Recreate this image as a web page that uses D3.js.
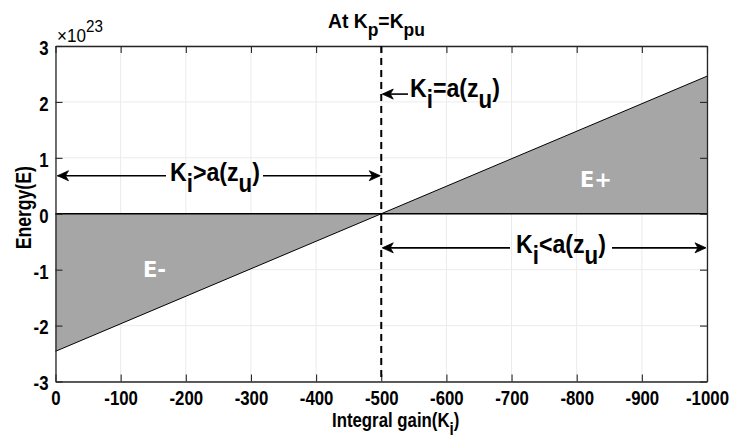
<!DOCTYPE html>
<html>
<head>
<meta charset="utf-8">
<script src="https://cdn.jsdelivr.net/npm/d3@7"></script>
<style>
  html, body { margin: 0; padding: 0; background: #fff; }
  svg { display: block; }
  .nar { font-family: "Liberation Sans", Arial, sans-serif; font-weight: bold; }
</style>
</head>
<body>
<svg id="chart" width="733" height="443"></svg>
<script>
// Integral gain Ki and the energy E (in units of 1e23) along it
const kiValues = [0, -500, -1000];
const energyValues = [-2.46, 0, 2.46];
const xTicks = [0, -100, -200, -300, -400, -500, -600, -700, -800, -900, -1000];
const yTicks = [-3, -2, -1, 0, 1, 2, 3];
const criticalKi = -500;

const svg = d3.select("#chart");
const W = 733, H = 443;
const m = { left: 55.5, right: 26, top: 46, bottom: 61.5 };
const SX = 0.8;   // horizontal squeeze for the condensed bold tick lettering
const SXA = 0.89; // squeeze for the larger annotation lettering

const x = d3.scaleLinear().domain([0, -1000]).range([m.left, W - m.right]);
const y = d3.scaleLinear().domain([-3, 3]).range([H - m.bottom, m.top]);

const axisColor = "#262626";

// grid
const grid = svg.append("g");
grid.selectAll(".gx").data(xTicks).join("line")
  .attr("x1", d => x(d)).attr("x2", d => x(d))
  .attr("y1", y(-3)).attr("y2", y(3))
  .attr("stroke", "#ebebeb").attr("stroke-width", 1);
grid.selectAll(".gy").data(yTicks).join("line")
  .attr("x1", x(0)).attr("x2", x(-1000))
  .attr("y1", d => y(d)).attr("y2", d => y(d))
  .attr("stroke", "#ebebeb").attr("stroke-width", 1);

// shaded energy regions between the curve and zero
const pts = kiValues.map((k, i) => ({ k, e: energyValues[i] }));
svg.append("path").datum(pts)
  .attr("d", d3.area().x(d => x(d.k)).y0(y(0)).y1(d => y(d.e)))
  .attr("fill", "#a6a6a6").attr("stroke", "none");

// zero line
svg.append("line")
  .attr("x1", x(0)).attr("x2", x(-1000))
  .attr("y1", y(0)).attr("y2", y(0))
  .attr("stroke", "#000").attr("stroke-width", 1.5);

// energy curve
svg.append("path").datum(pts)
  .attr("d", d3.line().x(d => x(d.k)).y(d => y(d.e)))
  .attr("fill", "none").attr("stroke", "#000").attr("stroke-width", 1);

// axes (box style with inward ticks)
const tl = 7;
const fmt = d => String(d);
const axB = d3.axisBottom(x).tickValues(xTicks).tickSizeInner(-tl).tickSizeOuter(0).tickPadding(9).tickFormat(fmt);
const axT = d3.axisTop(x).tickValues(xTicks).tickSizeInner(-tl).tickSizeOuter(0).tickFormat("");
const axL = d3.axisLeft(y).tickValues(yTicks).tickSizeInner(-tl).tickSizeOuter(0).tickPadding(7).tickFormat(fmt);
const axR = d3.axisRight(y).tickValues(yTicks).tickSizeInner(-tl).tickSizeOuter(0).tickFormat("");

function styleAxis(g) {
  g.attr("font-family", null).attr("font-size", null);
  g.select(".domain").attr("stroke", axisColor).attr("stroke-width", 1.3);
  g.selectAll(".tick line").attr("stroke", axisColor).attr("stroke-width", 1.1);
  g.selectAll(".tick text").attr("fill", "#000").attr("class", "nar")
    .style("font-size", "21px").attr("transform", `scale(${SX},1)`);
}
svg.append("g").attr("transform", `translate(0,${y(-3)})`).call(axB).call(styleAxis);
svg.append("g").attr("transform", `translate(0,${y(3)})`).call(axT).call(styleAxis);
svg.append("g").attr("transform", `translate(${x(0)},0)`).call(axL).call(styleAxis)
  .selectAll(".tick text").attr("x", -7 / SX).attr("dy", "0.4em");
svg.append("g").attr("transform", `translate(${x(-1000)},0)`).call(axR).call(styleAxis);

// critical gain dashed line
svg.append("line")
  .attr("x1", x(criticalKi)).attr("x2", x(criticalKi))
  .attr("y1", y(3)).attr("y2", y(-3))
  .attr("stroke", "#000").attr("stroke-width", 2)
  .attr("stroke-dasharray", "7,5");

// condensed text with subscript pieces: parts = [[text, isSub], ...]
function richText(g, parts, px, py, size, subSize, subDy, sx) {
  const t = g.append("text").attr("class", "nar")
    .attr("transform", `translate(${px},${py}) scale(${sx},1)`)
    .style("font-size", size + "px").attr("fill", "#000");
  let low = false;
  parts.forEach(([s, sub]) => {
    const sp = t.append("tspan").text(s);
    if (sub && !low) { sp.attr("dy", subDy).style("font-size", subSize + "px"); low = true; }
    else if (!sub && low) { sp.attr("dy", -subDy); low = false; }
    else if (sub) sp.style("font-size", subSize + "px");
  });
  return t;
}

// title and labels
richText(svg, [["At K"], ["p", 1], ["=K"], ["pu", 1]], 328, 28, 21, 19, 8, 0.92);
richText(svg, [["Integral gain(K"], ["i", 1], [")"]], 332, 427, 21, 19, 8, SX);
svg.append("text").attr("class", "nar").style("font-size", "22px")
  .attr("transform", `translate(31,${y(0) - 6}) rotate(-90) scale(${SX},1)`)
  .attr("text-anchor", "middle").text("Energy(E)");

// exponent label
const ex = svg.append("text").attr("transform", `translate(57,42) scale(0.95,1)`)
  .style("font-family", "'Liberation Sans', Arial, sans-serif").style("font-size", "18px").attr("fill", "#000");
ex.append("tspan").text("\u00d710");
ex.append("tspan").attr("dy", -10).style("font-size", "16px").text("23");

// arrows
function arrowHead(g, tipX, tipY, dir) {
  const L = 11, hw = 5, notch = 3;
  const d = `M${tipX},${tipY} L${tipX + dir * L},${tipY - hw} L${tipX + dir * (L - notch)},${tipY} L${tipX + dir * L},${tipY + hw} Z`;
  g.append("path").attr("d", d).attr("fill", "#000").attr("stroke", "#000").attr("stroke-width", 0.8).attr("stroke-linejoin", "miter");
}
function hLine(g, x1, x2, yy) {
  g.append("line").attr("x1", x1).attr("x2", x2).attr("y1", yy).attr("y2", yy)
    .attr("stroke", "#000").attr("stroke-width", 1.6);
}
const ann = svg.append("g");

// Ki > a(zu): double arrow over the left half
const yA = y(0.68);
hLine(ann, x(0) + 2, 166, yA);
hLine(ann, 263, x(criticalKi) - 2, yA);
arrowHead(ann, x(0) + 2, yA, 1);
arrowHead(ann, x(criticalKi) - 1, yA, -1);
richText(ann, [["K"], ["i", 1], [">a(z"], ["u", 1], [")"]], 170, yA + 5, 26, 25, 11, SXA);

// Ki < a(zu): double arrow over the right half
const yB = y(-0.61);
hLine(ann, x(criticalKi) + 2, 510, yB);
hLine(ann, 612, x(-1000) - 2, yB);
arrowHead(ann, x(criticalKi) + 1, yB, 1);
arrowHead(ann, x(-1000) - 1, yB, -1);
richText(ann, [["K"], ["i", 1], ["<a(z"], ["u", 1], [")"]], 516, yB + 5, 26, 25, 11, SXA);

// Ki = a(zu): pointer to the dashed line
const yC = y(2.14);
hLine(ann, x(criticalKi) + 2, 408, yC);
arrowHead(ann, x(criticalKi) + 1, yC, 1);
richText(ann, [["K"], ["i", 1], ["=a(z"], ["u", 1], [")"]], 410, yC + 3, 26, 25, 11, SXA);

// region labels
svg.append("text").attr("x", 143).attr("y", y(-1) + 7)
  .style("font-family", "'DejaVu Sans', sans-serif").style("font-weight", "bold").style("font-size", "21px")
  .attr("fill", "#fff").text("E-");
svg.append("text").attr("x", 580).attr("y", y(0.6) + 7)
  .style("font-family", "'DejaVu Sans', sans-serif").style("font-weight", "bold").style("font-size", "21px")
  .attr("fill", "#fff").text("E+");
</script>
</body>
</html>
